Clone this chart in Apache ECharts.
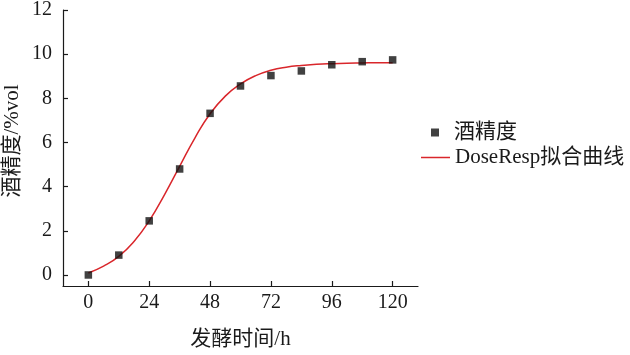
<!DOCTYPE html>
<html>
<head>
<meta charset="utf-8">
<script src="https://cdn.jsdelivr.net/npm/echarts@6/dist/echarts.min.js"></script>
<style>html,body{margin:0;padding:0;background:#fff;}#c{width:630px;height:355px;}</style>
</head>
<body>
<div id="c"></div>
<script>
var timeH = [0, 12, 24, 36, 48, 60, 72, 84, 96, 108, 120];
var alcohol = [0.0, 0.9, 2.45, 4.8, 7.32, 8.56, 9.03, 9.24, 9.52, 9.66, 9.74];
var fitX = [0, 6, 12, 18, 24, 30, 36, 42, 48, 54, 60, 66, 72, 78, 84, 90, 96, 102, 108, 114, 120];
var fitY = [0.09, 0.4, 0.84, 1.52, 2.45, 3.63, 4.92, 6.2, 7.3, 8.1, 8.65, 9.03, 9.27, 9.41, 9.49, 9.54, 9.57, 9.59, 9.6, 9.61, 9.61];
var xTicks = [0, 24, 48, 72, 96, 120];
var yTicks = [0, 2, 4, 6, 8, 10, 12];

var FONT = '"Liberation Serif", "Noto Sans CJK SC", serif';
var chart = echarts.init(document.getElementById('c'));
var scatterData = timeH.map(function (t, i) { return [t, alcohol[i]]; });
var fitData = fitX.map(function (t, i) { return [t, fitY[i]]; });

chart.setOption({
  backgroundColor: '#fff',
  animation: false,
  textStyle: { fontFamily: FONT, color: '#1a1a1a' },
  grid: { left: 63, right: 212, top: 10, bottom: 69, containLabel: false, outerBoundsMode: 'none' },
  legend: [
    {
      data: ['酒精度'], orient: 'vertical', left: 426, top: 117,
      itemWidth: 8, itemHeight: 8, itemGap: 0, icon: 'rect',
      textStyle: { fontFamily: FONT, fontSize: 21, color: '#1a1a1a', padding: [0, 0, 0, 10] },
      selectedMode: false
    },
    {
      data: ['DoseResp拟合曲线'], orient: 'vertical', left: 416, top: 142,
      itemWidth: 29, itemHeight: 1.5, itemGap: 0, icon: 'rect',
      textStyle: { fontFamily: FONT, fontSize: 21, color: '#1a1a1a', padding: [0, 0, 0, 0] },
      selectedMode: false
    }
  ],
  xAxis: {
    type: 'value', min: -10, max: 130,
    name: '发酵时间/h', nameLocation: 'middle', nameGap: 43, nameMoveOverlap: false,
    nameTextStyle: { fontFamily: FONT, fontSize: 21, color: '#1a1a1a' },
    axisLine: { show: true, onZero: false, lineStyle: { color: '#1a1a1a', width: 1.2 } },
    axisTick: { show: true, inside: true, length: 5, customValues: xTicks, lineStyle: { color: '#1a1a1a', width: 1.2 } },
    axisLabel: { customValues: xTicks, fontFamily: FONT, fontSize: 20, color: '#1a1a1a', margin: 7 },
    splitLine: { show: false }
  },
  yAxis: {
    type: 'value', min: -0.5, max: 12,
    name: '酒精度/%vol', nameLocation: 'middle', nameGap: 40, nameRotate: 90, nameMoveOverlap: false,
    nameTextStyle: { fontFamily: FONT, fontSize: 21, color: '#1a1a1a', padding: [0, 0, 0, 14] },
    axisLine: { show: true, onZero: false, lineStyle: { color: '#1a1a1a', width: 1.2 } },
    axisTick: { show: true, inside: true, length: 5, customValues: yTicks, lineStyle: { color: '#1a1a1a', width: 1.2 } },
    axisLabel: { customValues: yTicks, fontFamily: FONT, fontSize: 20, color: '#1a1a1a', margin: 11 },
    splitLine: { show: false }
  },
  series: [
    {
      name: '酒精度', type: 'scatter', data: scatterData,
      symbol: 'rect', symbolSize: 7.5, z: 3,
      itemStyle: { color: '#111' }
    },
    {
      name: 'DoseResp拟合曲线', type: 'line', data: fitData,
      smooth: true, showSymbol: false, symbol: 'none', z: 2,
      lineStyle: { color: '#d9262b', width: 1.5 },
      itemStyle: { color: '#d9262b' }
    }
  ]
});
</script>
</body>
</html>
